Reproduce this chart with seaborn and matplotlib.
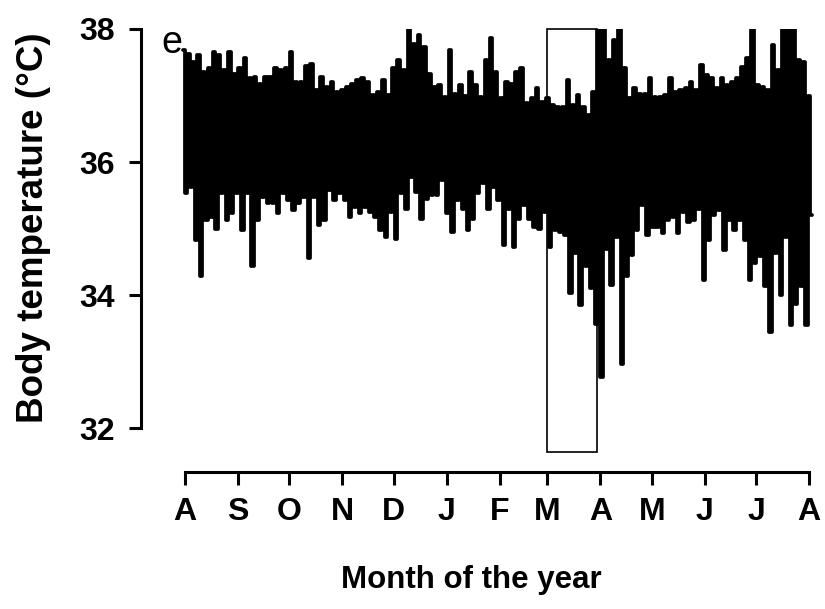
import numpy as np
import pandas as pd
import matplotlib
matplotlib.use("Agg")
import matplotlib.pyplot as plt
import seaborn as sns
from matplotlib.patches import Rectangle

# ---------------- data ----------------
month_labels = ["A", "S", "O", "N", "D", "J", "F", "M", "A", "M", "J", "J", "A"]
month_start_days = [0, 31, 61, 92, 122, 153, 184, 212, 243, 273, 304, 334, 365]
y_ticks = [32, 34, 36, 38]

sample_start_day = -1
sample_step_days = 3

# upper envelope (daily highs) of body temperature, one value every 3 days
temp_high = [
    37.68, 37.63, 37.51, 37.61, 37.35, 37.41, 37.66, 37.61, 37.38, 37.66, 37.33, 37.41, 37.56, 37.26, 37.28, 37.18, 37.28,
    37.28, 37.41, 37.38, 37.41, 37.66, 37.21, 37.21, 37.45, 37.48, 37.08, 37.28, 37.13, 37.21, 37.06, 37.08, 37.13, 37.18, 37.23,
    37.26, 37.21, 37.01, 37.06, 37.23, 37.01, 37.41, 37.53, 37.38, 38.00, 37.78, 37.91, 37.73, 37.33, 37.13, 37.16, 36.98,
    37.68, 37.03, 37.16, 37.00, 37.36, 37.16, 36.98, 37.53, 37.86, 37.36, 36.96, 37.20, 37.18, 37.36, 37.41, 36.88, 36.96, 37.11,
    36.91, 36.96, 36.85, 36.83, 36.83, 37.23, 36.86, 37.01, 36.83, 36.71, 37.06, 38.30, 38.30, 37.53, 37.83, 38.30, 37.41,
    36.96, 37.11, 37.03, 37.03, 37.26, 36.98, 36.98, 37.01, 37.26, 37.06, 37.08, 37.11, 37.21, 37.08, 37.46, 37.31, 37.26, 37.11,
    37.26, 37.16, 37.21, 37.26, 37.43, 37.56, 38.30, 37.16, 37.13, 37.08, 37.76, 37.38, 38.30, 38.30, 38.10, 37.53, 37.50, 37.00,
]
# lower envelope (daily lows)
temp_low = [
    35.53, 35.63, 34.83, 34.28, 35.13, 35.18, 35.00, 35.53, 35.13, 35.23, 35.53, 34.98, 35.53, 34.43, 35.13, 35.48, 35.38,
    35.38, 35.23, 35.53, 35.43, 35.28, 35.38, 35.48, 34.55, 35.48, 35.05, 35.13, 35.58, 35.43, 35.53, 35.43, 35.18, 35.33, 35.23,
    35.33, 35.25, 35.18, 34.98, 34.88, 35.25, 34.85, 35.53, 35.30, 35.78, 35.55, 35.15, 35.45, 35.50, 35.50, 35.73, 35.23,
    34.95, 35.43, 35.30, 34.98, 35.15, 35.53, 35.68, 35.30, 35.63, 35.43, 34.75, 35.30, 34.73, 35.15, 35.35, 35.15, 35.03, 35.00,
    35.25, 34.73, 34.98, 34.95, 34.90, 34.03, 34.63, 33.85, 34.43, 34.10, 33.57, 32.77, 34.70, 34.15, 34.88, 32.97, 34.28,
    34.60, 34.98, 35.35, 34.90, 35.03, 35.03, 34.93, 35.13, 35.18, 34.93, 35.25, 35.10, 35.13, 35.30, 34.23, 34.83, 35.20, 35.28,
    34.68, 35.13, 34.98, 35.13, 34.83, 34.23, 34.48, 34.58, 34.13, 33.45, 34.63, 34.00, 34.88, 33.55, 33.87, 34.13, 33.55, 35.20,
]

box_days = [212, 241]        # highlighted period (March)
box_temps = [31.64, 38.0]

# ---------------- build long table ----------------
n = min(len(temp_high), len(temp_low))
rows = []
for i in range(n):
    d = sample_start_day + sample_step_days * i
    rows.append((d, temp_high[i]))
    rows.append((d + sample_step_days / 2, temp_low[i]))
df = pd.DataFrame(rows, columns=["day", "temp"])

# ---------------- style ----------------
sns.set_style("white")
plt.rcParams["font.family"] = ["Liberation Sans", "DejaVu Sans"]
plt.rcParams["text.color"] = "black"

fig = plt.figure(figsize=(8.25, 6.09), dpi=100)
ax = fig.add_axes([141 / 825, 1 - 472 / 609, (815 - 141) / 825, (472 - 29) / 609])

sns.lineplot(data=df, x="day", y="temp", estimator=None, sort=True,
             color="black", linewidth=2.7, drawstyle="steps-mid", ax=ax)

ax.add_patch(Rectangle((box_days[0], box_temps[0]), box_days[1] - box_days[0],
                       box_temps[1] - box_temps[0], fill=False,
                       edgecolor="black", linewidth=1.2, clip_on=False, zorder=5))

ax.set_xlim(-25.7, 368.5)
ax.set_ylim(31.34, 38.0)

ax.set_xticks(month_start_days)
ax.set_xticklabels(month_labels)
ax.set_yticks(y_ticks)
ax.set_yticklabels([str(t) for t in y_ticks])

for s in ["top", "right"]:
    ax.spines[s].set_visible(False)
for s in ["left", "bottom"]:
    ax.spines[s].set_linewidth(2.2)
    ax.spines[s].set_color("black")
ax.spines["left"].set_bounds(32, 38)
ax.spines["bottom"].set_bounds(0, 365)

ax.tick_params(axis="both", direction="out", length=9, width=2.2, color="black",
               labelsize=23, labelcolor="black", bottom=True, left=True)
ax.tick_params(axis="x", pad=9)
ax.tick_params(axis="y", pad=10)
for lab in ax.get_xticklabels() + ax.get_yticklabels():
    lab.set_fontweight("bold")
    lab.set_color("black")

ax.set_xlabel("")
ax.set_ylabel("")
fig.text(34 / 825, 1 - 228 / 609, "Body temperature (°C)", rotation=90,
         ha="center", va="center", fontsize=26.5, fontweight="bold", color="black")
fig.text(471 / 825, 1 - 580 / 609, "Month of the year",
         ha="center", va="center", fontsize=22.5, fontweight="bold", color="black")
fig.text(172 / 825, 1 - 43 / 609, "e", ha="center", va="center", fontsize=27, color="black")

fig.savefig("out.png", dpi=100)
